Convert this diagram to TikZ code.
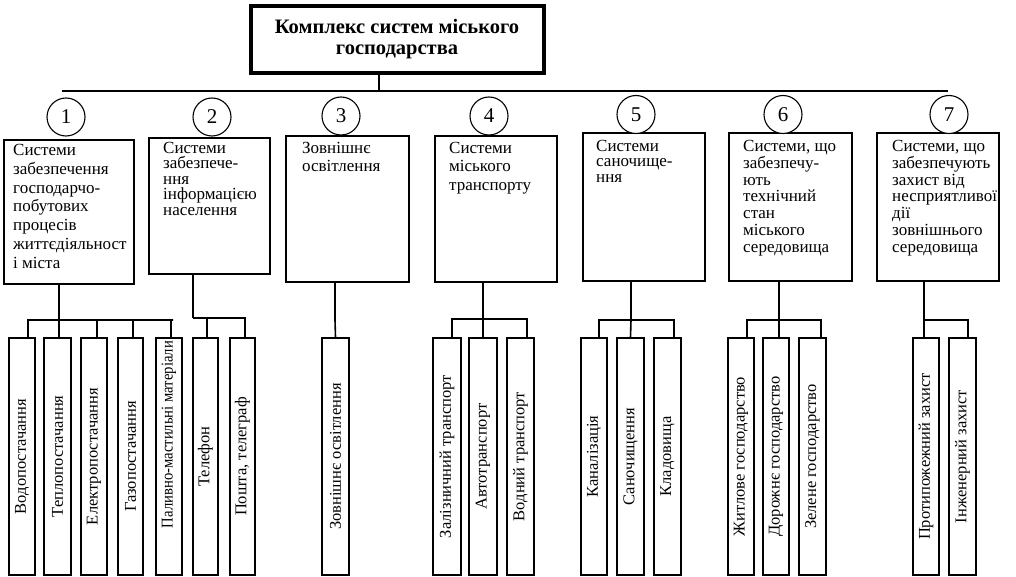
\documentclass[tikz,border=0pt]{standalone}
\usepackage{fontspec}
\usepackage{graphicx}
\setmainfont{Liberation Serif}
\begin{document}
\begin{tikzpicture}[x=1pt,y=-1pt,
  conn/.style={line width=1.6pt},
  hbox/.style={draw, line width=1.6pt, inner sep=0pt, anchor=north west},
  htext/.style={anchor=north west, align=left, inner sep=0pt, font=\fontsize{17}{#1}\selectfont},
  num/.style={draw, circle, line width=1.1pt, minimum size=38pt, inner sep=0pt, fill=white, font=\fontsize{21}{21}\selectfont},
  vbox/.style={draw, line width=1.6pt, rotate=90, minimum width=237pt, minimum height=#1, inner sep=0pt, font=\fontsize{16.5}{16.5}\selectfont}
]
\useasboundingbox (0,0) rectangle (1016,577);

% title
\node[draw, line width=3pt, minimum width=294pt, minimum height=68pt, inner sep=0pt, align=center,
      font=\bfseries\fontsize{20.5}{21}\selectfont] (title) at (397,39.5)
      {Комплекс систем міського\\господарства};
\draw[line width=0.9pt] ([shift={(3.5pt,-3.5pt)}]title.north west) rectangle ([shift={(-3.5pt,3.5pt)}]title.south east);

% bus
\coordinate (busL) at (62,91);
\coordinate (busR) at (948,91);
\draw[conn] (busL) -- (busR);
\draw[conn] ([xshift=-18pt]title.south) -- ([xshift=-18pt]title.south |- busL);

% header boxes
\node[hbox, minimum width=130pt, minimum height=144pt] (h1) at (3,139) {};
\node[hbox, minimum width=121pt, minimum height=136pt] (h2) at (148,137) {};
\node[hbox, minimum width=123pt, minimum height=146pt] (h3) at (285,135) {};
\node[hbox, minimum width=122pt, minimum height=146pt] (h4) at (434,135) {};
\node[hbox, minimum width=122pt, minimum height=148pt] (h5) at (582,132) {};
\node[hbox, minimum width=123pt, minimum height=148pt] (h6) at (728,132) {};
\node[hbox, minimum width=122pt, minimum height=148pt] (h7) at (876,132) {};

% numbers
\node[num] (n1) at (66,117) {1};
\node[num] (n2) at (212,117) {2};
\node[num] (n3) at (341,116) {3};
\node[num] (n4) at (489,116) {4};
\node[num] (n5) at (636,114.5) {5};
\node[num] (n6) at (783,114.5) {6};
\node[num] (n7) at (949,114.5) {7};

% header texts
\node[htext=18.8pt] (t1) at ([xshift=10pt,yshift=-5pt]h1.north west)
  {Системи\\забезпечення\\господарчо-\\побутових\\процесів\\життєдіяльност\\і міста};
\node[htext=15.5pt] (t2) at ([xshift=15pt,yshift=-5pt]h2.north west)
  {Системи\\забезпече-\\ння\\інформацією\\населення};
\node[htext=18pt] (t3) at ([xshift=17pt,yshift=-7pt]h3.north west)
  {Зовнішнє\\освітлення};
\node[htext=18.5pt] (t4) at ([xshift=15pt,yshift=-7pt]h4.north west)
  {Системи\\міського\\транспорту};
\node[htext=15.5pt] (t5) at ([xshift=14pt,yshift=-8pt]h5.north west)
  {Системи\\саночище-\\ння};
\node[htext=16.8pt] (t6) at ([xshift=15pt,yshift=-8pt]h6.north west)
  {Системи, що\\забезпечу-\\ють\\технічний\\стан\\міського\\середовища};
\node[htext=16.8pt] (t7) at ([xshift=16pt,yshift=-8pt]h7.north west)
  {Системи, що\\забезпечують\\захист від\\несприятливої\\дії\\зовнішнього\\середовища};

% bottom boxes
\node[vbox=26pt] (w11) at (22,456.5) {Водопостачання};
\node[vbox=27pt] (w12) at (57.5,456.5) {Теплопостачання};
\node[vbox=26pt] (w13) at (94,456.5) {Електропостачання};
\node[vbox=25pt] (w14) at (130.5,456.5) {Газопостачання};
\node[vbox=26pt] (w15) at (169,456.5) {\hspace*{44pt}\scalebox{0.89}[1]{Паливно-мастильні матеріали}};
\node[vbox=25pt] (w21) at (205.5,456.5) {Телефон};
\node[vbox=25pt] (w22) at (242.5,456.5) {Пошта, телеграф};
\node[vbox=27pt] (w31) at (335.5,456.5) {Зовнішнє освітлення};
\node[vbox=28pt] (w41) at (447,456.5) {Залізничний транспорт};
\node[vbox=28pt] (w42) at (483,456.5) {Автотранспорт};
\node[vbox=27pt] (w43) at (520.5,456.5) {Водний транспорт};
\node[vbox=26pt] (w51) at (594,456.5) {Каналізація};
\node[vbox=27pt] (w52) at (630.5,456.5) {Саночищення};
\node[vbox=27pt] (w53) at (667.5,456.5) {Кладовища};
\node[vbox=26pt] (w61) at (741,456.5) {Житлове господарство};
\node[vbox=26pt] (w62) at (776,456.5) {Дорожнє господарство};
\node[vbox=27pt] (w63) at (812.5,456.5) {Зелене господарство};
\node[vbox=26pt] (w71) at (926,456.5) {Протипожежний захист};
\node[vbox=27pt] (w72) at (962.5,456.5) {Інженерний захист};

% junctions
\coordinate (j1) at (59,320);
\coordinate (j2) at (193,318);
\coordinate (j3) at (335,320);
\coordinate (j4) at (483,319);
\coordinate (j5) at (631,320);
\coordinate (j6) at (779,320);
\coordinate (j7) at (924,320);

% drops from headers
\foreach \i in {1,...,7} {
  \draw[conn] (h\i.south -| j\i) -- (j\i);
}

% ticks to bottom boxes (after rotation the east anchor is the top side)
\draw[conn] ([xshift=6pt]w11.east) |- (j1);
\draw[conn] ([xshift=1.5pt]w12.east) |- (j1);
\draw[conn] ([xshift=3pt]w13.east) |- (j1);
\draw[conn] ([xshift=2.5pt]w14.east) |- (j1);
\draw[conn] ([xshift=2pt]w15.east) |- ([xshift=4pt]w15.east |- j1) -- (j1);
\draw[conn] ([xshift=1.5pt]w21.east) |- (j2);
\draw[conn] ([xshift=2.5pt]w22.east) |- (j2);
\draw[conn] (w31.east) -- (j3);
\draw[conn] ([xshift=5pt]w41.east) |- (j4);
\draw[conn] (w42.east) -- (j4);
\draw[conn] ([xshift=6.5pt]w43.east) |- (j4);
\draw[conn] ([xshift=5pt]w51.east) |- (j5);
\draw[conn] (w52.east) -- (j5);
\draw[conn] ([xshift=6.5pt]w53.east) |- (j5);
\draw[conn] ([xshift=6pt]w61.east) |- (j6);
\draw[conn] ([xshift=3pt]w62.east) |- (j6);
\draw[conn] ([xshift=8.5pt]w63.east) |- (j6);
\draw[conn] ([xshift=-2pt]w71.east) |- (j7);
\draw[conn] ([xshift=5.5pt]w72.east) |- (j7);
\end{tikzpicture}
\end{document}
